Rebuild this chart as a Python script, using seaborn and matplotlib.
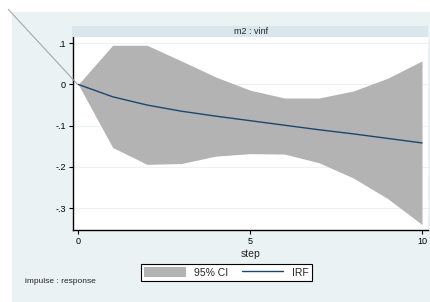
import numpy as np
import pandas as pd
import matplotlib
matplotlib.use("Agg")
import matplotlib.pyplot as plt
from matplotlib.lines import Line2D
from matplotlib.patches import Rectangle
from matplotlib.ticker import FuncFormatter
import seaborn as sns

sns.set_theme(style="white")
plt.rcParams['font.family'] = ['Liberation Sans', 'DejaVu Sans']

# irf values
steps = [0, 1, 2, 3, 4, 5, 6, 7, 8, 9, 10]
irf = [0, -0.030, -0.050, -0.065, -0.077, -0.088, -0.099, -0.110, -0.120, -0.131, -0.142]
ci_upper = [0, 0.095, 0.095, 0.057, 0.018, -0.014, -0.033, -0.033, -0.016, 0.015, 0.057]
ci_lower = [0, -0.153, -0.194, -0.192, -0.174, -0.168, -0.169, -0.190, -0.227, -0.277, -0.340]
yticks = [0.1, 0, -0.1, -0.2, -0.3]
xticks = [0, 5, 10]

df = pd.DataFrame({"step": steps, "irf": irf, "lo": ci_lower, "hi": ci_upper})

bg = "#eaf2f3"
fig = plt.figure(figsize=(4.30, 3.02), dpi=100)
fig.patch.set_facecolor("white")

# outer light background
fig.add_artist(Rectangle((0.027, 0), 0.973, 0.961, transform=fig.transFigure,
                         facecolor=bg, edgecolor="none", zorder=0))

ax = fig.add_axes([0.169, 0.238, 0.826, 0.638])
ax.set_facecolor("white")

ax.fill_between(df["step"], df["lo"], df["hi"], color="#b3b3b3", lw=0, label="95% CI")
sns.lineplot(data=df, x="step", y="irf", ax=ax, color="#1a476f", lw=1.0, label="IRF")

ax.set_xlim(-0.163, 10.17)
ax.set_ylim(-0.3536, 0.114)
ax.set_yticks(yticks)
ax.set_xticks(xticks)
ax.yaxis.set_major_formatter(FuncFormatter(
    lambda v, p: "0" if abs(v) < 1e-9 else ("%.1f" % v).replace("0.", ".")))
ax.grid(axis="y", color=bg, lw=0.8)
ax.grid(axis="x", visible=False)
ax.tick_params(axis="both", direction="out", length=3, width=0.8, colors="black",
               labelsize=6.5, pad=2, left=True, bottom=True)
for s in ["top", "right"]:
    ax.spines[s].set_visible(False)
for s in ["left", "bottom"]:
    ax.spines[s].set_color("black")
    ax.spines[s].set_linewidth(1.0)
ax.set_xlabel("step", fontsize=7.5, labelpad=2)
ax.set_ylabel("")
ax.get_legend().remove()

# panel title strip
fig.add_artist(Rectangle((0.168, 0.876), 0.827, 0.038, transform=fig.transFigure,
                         facecolor="#d9e6eb", edgecolor="none"))
fig.text(0.583, 0.895, "m2 : vinf", ha="center", va="center", fontsize=6.5)

# stray diagonal line in the original
fig.add_artist(Line2D([0.0193, 0.1802], [0.969, 0.7209], transform=fig.transFigure,
                      color="#a8a8a8", lw=0.8))

handles, labels = ax.get_legend_handles_labels()
leg = fig.legend(handles, labels, loc="center", bbox_to_anchor=(0.526, 0.098), ncol=2,
                 fontsize=7.5, frameon=True, fancybox=False, handlelength=4.0,
                 handleheight=1.0, handletextpad=0.8, columnspacing=1.3,
                 borderpad=0.3, edgecolor="black", facecolor="white", framealpha=1)
leg.get_frame().set_linewidth(0.8)

fig.text(0.058, 0.068, "impulse : response", ha="left", va="center", fontsize=6)

fig.savefig("out.png", dpi=100, facecolor=fig.get_facecolor())
